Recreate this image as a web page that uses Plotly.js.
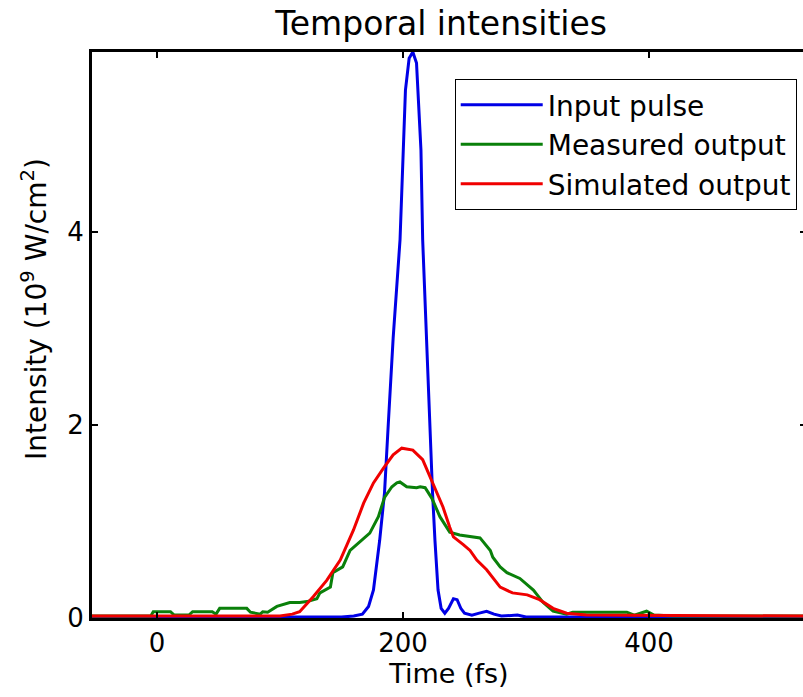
<!DOCTYPE html>
<html>
<head>
<meta charset="utf-8">
<script src="https://cdn.plot.ly/plotly-3.0.1.min.js"></script>
<style>
html,body{margin:0;padding:0;background:#fff;overflow:hidden;}
#chart{width:815px;height:697px;}
</style>
</head>
<body>
<div id="chart"></div>
<script>
// Input pulse (blue)
const inputT = [-53, 100, 150, 160, 167, 172, 176, 181, 185, 188, 192, 197.6, 200, 202, 205, 208, 211, 212, 214.6, 216, 219, 222, 224, 226, 228.5, 231, 234, 237, 241, 244, 247, 250, 256, 262, 268, 274, 280, 293, 300, 310, 528];
const inputI = [0.01, 0.01, 0.01, 0.02, 0.04, 0.12, 0.29, 0.8, 1.3, 2.0, 2.9, 3.92, 4.85, 5.47, 5.8, 5.865, 5.75, 5.47, 4.85, 3.92, 2.9, 2.0, 1.3, 0.8, 0.29, 0.1, 0.05, 0.1, 0.2, 0.19, 0.1, 0.05, 0.03, 0.05, 0.07, 0.04, 0.02, 0.03, 0.01, 0.01, 0.01];

// Measured output (green)
const measT = [-53, -5, -3, 11, 14, 26, 29, 45, 48, 51, 73, 76, 84, 86, 90, 97.5, 108, 116, 122, 130, 132.5, 141, 143, 151, 157, 165, 173, 180, 185, 191, 195, 197.5, 203, 211, 214, 218, 223.5, 230, 238, 246, 260, 262.6, 271, 273, 279, 284.5, 295, 306, 314, 322, 333, 338, 382, 388, 398, 404, 420, 528];
const measI = [0.02, 0.02, 0.065, 0.065, 0.03, 0.03, 0.065, 0.065, 0.04, 0.10, 0.10, 0.06, 0.04, 0.065, 0.06, 0.12, 0.16, 0.16, 0.17, 0.2, 0.26, 0.32, 0.47, 0.53, 0.70, 0.79, 0.88, 1.05, 1.25, 1.36, 1.40, 1.41, 1.36, 1.35, 1.36, 1.35, 1.24, 1.05, 0.89, 0.86, 0.84, 0.83, 0.70, 0.63, 0.53, 0.47, 0.41, 0.29, 0.16, 0.07, 0.04, 0.06, 0.06, 0.03, 0.07, 0.03, 0.02, 0.02];

// Simulated output (red)
const simT = [-53, 90, 100, 110, 116, 127, 138, 149, 159.7, 168, 176, 184, 192, 199, 208, 216, 224, 232.5, 238, 241, 249, 254.5, 260, 268, 279, 289, 301, 311, 322, 333, 349, 528];
const simI = [0.02, 0.02, 0.02, 0.04, 0.065, 0.22, 0.39, 0.6, 0.91, 1.19, 1.40, 1.55, 1.69, 1.76, 1.74, 1.64, 1.40, 1.15, 0.94, 0.84, 0.76, 0.70, 0.60, 0.50, 0.32, 0.26, 0.24, 0.19, 0.10, 0.05, 0.03, 0.02];

const xTicks = [0, 200, 400];
const yTicks = [0, 2, 4];

const FONT = "DejaVu Sans, Liberation Sans, Arial, sans-serif";

const traces = [
  {x: inputT, y: inputI, name: 'Input pulse', type: 'scatter', mode: 'lines', line: {color: '#0000e6', width: 3}},
  {x: measT, y: measI, name: 'Measured output', type: 'scatter', mode: 'lines', line: {color: '#0a800a', width: 3}},
  {x: simT, y: simI, name: 'Simulated output', type: 'scatter', mode: 'lines', line: {color: '#f00000', width: 3}}
];

const layout = {
  width: 815, height: 697,
  margin: {l: 92, r: 9, t: 52, b: 79, pad: 0},
  paper_bgcolor: '#ffffff', plot_bgcolor: '#ffffff',
  font: {family: FONT, color: '#000', size: 26},
  title: {text: 'Temporal intensities', font: {family: FONT, size: 33, color: '#000'},
          xref: 'paper', x: 0.489, xanchor: 'center', yref: 'container', y: 0.966, yanchor: 'middle'},
  showlegend: true,
  legend: {x: 0.987, xanchor: 'right', y: 0.952, yanchor: 'top', xref: 'paper', yref: 'paper',
           bgcolor: '#ffffff', bordercolor: '#000', borderwidth: 1,
           font: {family: FONT, size: 28, color: '#000'}, itemwidth: 82, tracegroupgap: 0},
  xaxis: {range: [-52.8, 527.6], tickvals: xTicks, ticktext: xTicks.map(String),
          ticks: 'inside', ticklen: 6, tickwidth: 2, tickcolor: '#000',
          showline: true, linecolor: '#000', linewidth: 3, mirror: 'ticks',
          showgrid: false, zeroline: false,
          tickfont: {family: FONT, size: 26, color: '#000'},
          title: {text: 'Time (fs)', font: {family: FONT, size: 27, color: '#000'}, standoff: 6}},
  yaxis: {range: [0, 5.865], tickvals: yTicks, ticktext: yTicks.map(String),
          ticks: 'inside', ticklen: 6, tickwidth: 2, tickcolor: '#000',
          showline: true, linecolor: '#000', linewidth: 3, mirror: 'ticks',
          showgrid: false, zeroline: false,
          tickfont: {family: FONT, size: 26, color: '#000'}},
  annotations: [{text: 'Intensity (10<sup>9</sup> W/cm<sup>2</sup>)', textangle: -90,
                 xref: 'paper', yref: 'paper', x: -0.0798, y: 0.546, xanchor: 'center', yanchor: 'middle',
                 showarrow: false, font: {family: FONT, size: 28, color: '#000'}}]
};

Plotly.newPlot('chart', traces, layout, {displayModeBar: false, staticPlot: true});
</script>
</body>
</html>
